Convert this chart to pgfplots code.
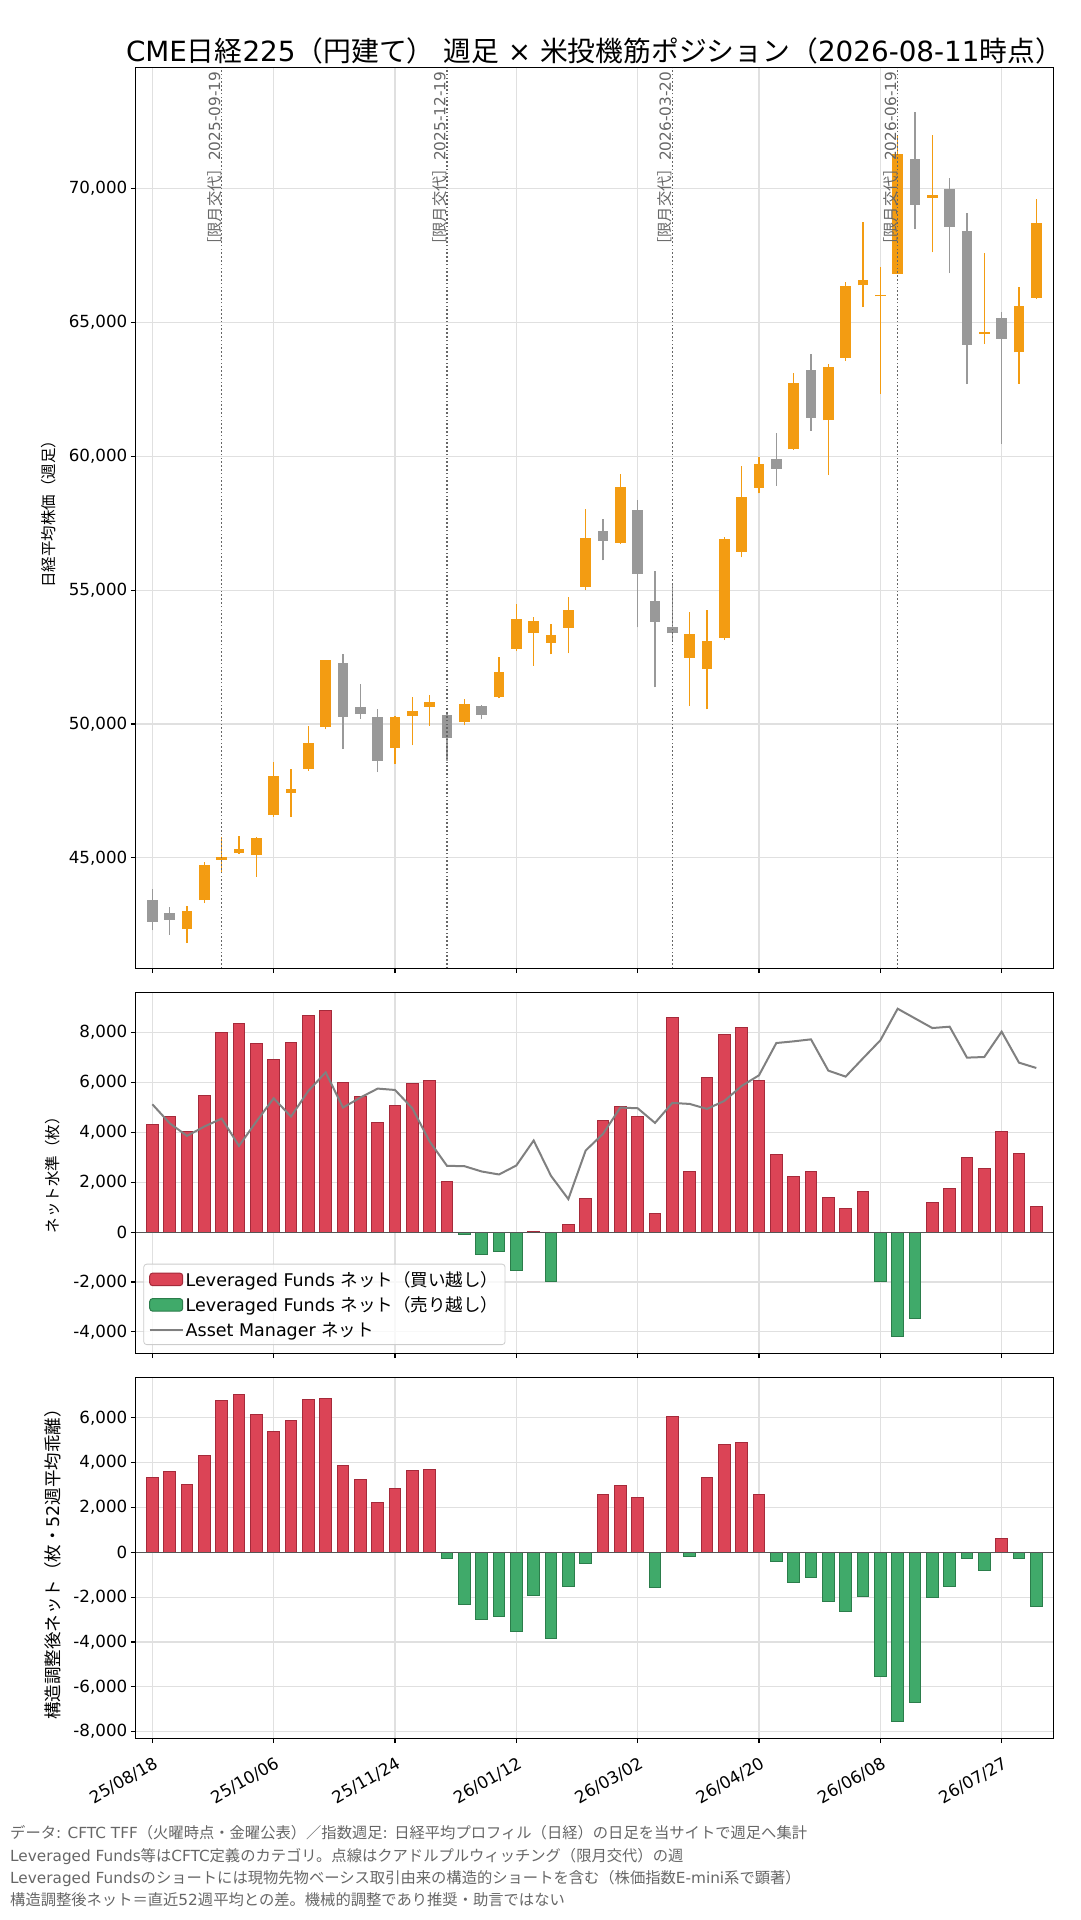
\documentclass[border=0pt]{standalone}
\usepackage{fontspec}
\setmainfont{DejaVu Sans}
\newfontfamily\jp{Noto Sans CJK JP}
\usepackage{pgfplots}
\usepackage{pgfplotstable}
\pgfplotsset{compat=1.18}
\definecolor{cup}{HTML}{F39C12}
\definecolor{cdn}{HTML}{999999}
\definecolor{rfill}{HTML}{DB4456}
\definecolor{redge}{HTML}{A52A3A}
\definecolor{gfill}{HTML}{40AA6A}
\definecolor{gedge}{HTML}{2B7D4B}
\definecolor{amline}{HTML}{808080}
\definecolor{zl}{HTML}{555555}
\definecolor{note}{HTML}{666666}
\definecolor{gridc}{HTML}{E0E0E0}

% candles: w = week index (0 = 25/08/18), o h l c
\pgfplotstableread{
w o h l c
2 42360 43210 41820 43020
3 43430 44860 43310 44740
4 44940 45800 44490 45040
5 45200 45820 45150 45340
6 45110 45800 44300 45750
7 46600 48570 46540 48060
8 47440 48310 46520 47580
9 48320 49910 48250 49290
10 49900 52400 49800 52390
14 49120 50290 48500 50260
15 50310 51000 49200 50490
16 50650 51100 49930 50820
18 50080 50920 49950 50750
20 51020 52490 50960 51940
21 52800 54470 52720 53920
22 53410 54000 52180 53840
23 53040 53720 52600 53320
24 53600 54750 52640 54250
25 55120 58010 55000 56940
27 56770 59320 56720 58840
31 52480 54170 50670 53360
32 52070 54240 50550 53100
33 53220 56990 53130 56900
34 56430 59650 56220 58470
35 58820 59980 58610 59700
37 60250 63100 60240 62740
39 61330 63430 59290 63330
40 63680 66490 63560 66360
41 66370 68750 65560 66580
42 65960 67050 62310 66020
43 66810 71950 66800 71280
45 69650 71980 67610 69750
48 64560 67580 64180 64620
50 63870 66310 62700 65610
51 65920 69590 65860 68710
}\upT
\pgfplotstableread{
w o h l c
0 43430 43830 42310 42620
1 42950 43160 42130 42700
11 52280 52610 49060 50270
12 50630 51480 50200 50370
13 50260 50550 48200 48630
17 50340 50400 48620 49490
19 50670 50710 50170 50340
26 57200 57670 56110 56840
28 57990 58360 53610 55610
29 54590 55730 51370 53820
30 53620 55210 53110 53380
36 59890 60880 58890 59520
38 63220 63810 60950 61440
44 71090 72840 68470 69390
46 69970 70370 66830 68570
47 68410 69070 62690 64150
49 65160 65370 60460 64380
}\dnT

\pgfplotsset{
  base/.style={
    scale only axis, width=917.6pt, xmin=-0.96, xmax=51.98,
    axis line style={line width=1.1pt, black},
    tick style={line width=1.1pt, black}, major tick length=4.9pt, tick align=outside,
    xtick pos=bottom, ytick pos=left, xtick={0,7,...,49},
    scaled y ticks=false, scaled x ticks=false,
    grid=major, grid style={line width=1.1pt, gridc},
    tick label style={font=\fontsize{16.7}{20}\selectfont},
  },
  rbar/.style={ybar, bar width=0.67, bar shift=0pt, fill=rfill, draw=redge, line width=1pt},
  gbar/.style={ybar, bar width=0.67, bar shift=0pt, fill=gfill, draw=gedge, line width=1pt},
  candle/.style 2 args={draw=none, mark=none, forget plot, error bars/.cd, y dir=plus, y explicit, error mark=none,
    error bar style={line width=#1, draw=#2}},
}

\begin{document}
\begin{tikzpicture}
\useasboundingbox (0pt,0pt) rectangle (1080pt,-1920pt);

% title
\node[anchor=base, inner sep=0pt, font=\fontsize{27.8}{32}\selectfont] at (594.5pt,-61pt)
  {CME{\jp 日経}225{\jp （円建て）} {\jp 週足} × {\jp 米投機筋ポジション（}2026-08-11{\jp 時点）}};

% y labels
\node[rotate=90, anchor=center, inner sep=0pt, font=\fontsize{15.5}{18}\selectfont] at (49pt,-510pt) {{\jp 日経平均株価（週足）}};
\node[rotate=90, anchor=center, inner sep=0pt, font=\fontsize{15.5}{18}\selectfont] at (53pt,-1171pt) {{\jp ネット水準（枚）}};
\node[rotate=90, anchor=center, inner sep=0pt, font=\fontsize{17.5}{20}\selectfont] at (52.5pt,-1560pt) {{\jp 構造調整後ネット（枚・}52{\jp 週平均乖離）}};

% ---------- top: candles ----------
\begin{axis}[base, at={(135.7pt,-968.3pt)}, anchor=south west, height=900.6pt,
  ymin=40880, ymax=74500,
  ytick={45000,50000,55000,60000,65000,70000},
  yticklabels={{45,000},{50,000},{55,000},{60,000},{65,000},{70,000}},
  xticklabels={},
]
% wicks
\addplot[candle={1.5pt}{cup}]
  table[x=w, y=l, y error plus expr=\thisrow{h}-\thisrow{l}] {\upT};
\addplot[candle={1.5pt}{cdn}]
  table[x=w, y=l, y error plus expr=\thisrow{h}-\thisrow{l}] {\dnT};
% bodies
\addplot[candle={10.7pt}{cup}]
  table[x=w, y=o, y error plus expr=\thisrow{c}-\thisrow{o}] {\upT};
\addplot[candle={10.7pt}{cdn}]
  table[x=w, y=c, y error plus expr=\thisrow{o}-\thisrow{c}] {\dnT};
% roll weeks
\draw[note, line width=1.6pt, dash pattern=on 1.6pt off 2.2pt] (axis cs:4,40880) -- (axis cs:4,74500);
\draw[note, line width=1.6pt, dash pattern=on 1.6pt off 2.2pt] (axis cs:17,40880) -- (axis cs:17,74500);
\draw[note, line width=1.6pt, dash pattern=on 1.6pt off 2.2pt] (axis cs:30,40880) -- (axis cs:30,74500);
\draw[note, line width=1.6pt, dash pattern=on 1.6pt off 2.2pt] (axis cs:43,40880) -- (axis cs:43,74500);
\node[rotate=90, anchor=south east, inner sep=0pt, text=note, font=\fontsize{15.3}{18}\selectfont] at (axis cs:4,74350) {{\jp ［限月交代］}2025-09-19};
\node[rotate=90, anchor=south east, inner sep=0pt, text=note, font=\fontsize{15.3}{18}\selectfont] at (axis cs:17,74350) {{\jp ［限月交代］}2025-12-19};
\node[rotate=90, anchor=south east, inner sep=0pt, text=note, font=\fontsize{15.3}{18}\selectfont] at (axis cs:30,74350) {{\jp ［限月交代］}2026-03-20};
\node[rotate=90, anchor=south east, inner sep=0pt, text=note, font=\fontsize{15.3}{18}\selectfont] at (axis cs:43,74350) {{\jp ［限月交代］}2026-06-19};
\end{axis}

% ---------- middle: net level ----------
\begin{axis}[base, at={(135.7pt,-1353.3pt)}, anchor=south west, height=361pt,
  ymin=-4857, ymax=9604,
  ytick={-4000,-2000,0,2000,4000,6000,8000},
  yticklabels={{-4,000},{-2,000},{0},{2,000},{4,000},{6,000},{8,000}},
  xticklabels={},
  legend cell align=left,
  legend style={at={(axis description cs:0.0083,0.023)}, anchor=south west,
    draw=gray!40, line width=0.8pt, rounded corners=3pt, fill=white, fill opacity=0.8,
    draw opacity=1, text opacity=1, font=\fontsize{17.5}{21}\selectfont,
    inner xsep=5pt, inner ysep=5pt, row sep=5pt},
]
\addplot[rbar, legend image code/.code={\draw[fill=rfill, draw=redge, line width=1pt, fill opacity=1] (0pt,-6.3pt) rectangle (33pt,6.3pt);}]
 coordinates {(0,4320) (1,4640) (2,4040) (3,5480) (4,8000) (5,8360) (6,7560) (7,6920) (8,7600) (9,8680) (10,8880) (11,6000) (12,5440) (13,4400) (14,5080) (15,5960) (16,6080) (17,2030) (22,40) (24,320) (25,1360) (26,4480) (27,5040) (28,4640) (29,760) (30,8600) (31,2440) (32,6200) (33,7920) (34,8200) (35,6080) (36,3120) (37,2240) (38,2440) (39,1400) (40,960) (41,1640) (45,1200) (46,1730) (47,3000) (48,2560) (49,4040) (50,3160) (51,1040)};
\addlegendentry{Leveraged Funds {\jp ネット（買い越し）}}
\addplot[gbar, legend image code/.code={\draw[fill=gfill, draw=gedge, line width=1pt, fill opacity=1] (0pt,-6.3pt) rectangle (33pt,6.3pt);}]
 coordinates {(18,-80) (19,-880) (20,-760) (21,-1520) (23,-1990) (42,-2000) (43,-4200) (44,-3480)};
\addlegendentry{Leveraged Funds {\jp ネット（売り越し）}}
\addplot[amline, line width=2pt, mark=none, legend image code/.code={\draw[amline, line width=2pt] (0pt,0pt) -- (33pt,0pt);}]
 coordinates {(0,5120) (1,4360) (2,3853) (3,4227) (4,4547) (5,3453) (6,4427) (7,5360) (8,4627) (9,5653) (10,6400) (11,4987) (12,5387) (13,5747) (14,5693) (15,4960) (16,3627) (17,2653) (18,2640) (19,2427) (20,2307) (21,2667) (22,3667) (23,2253) (24,1320) (25,3267) (26,3933) (27,4987) (28,4960) (29,4373) (30,5173) (31,5133) (32,4933) (33,5253) (34,5853) (35,6280) (36,7573) (37,7640) (38,7720) (39,6467) (40,6227) (41,6960) (42,7680) (43,8947) (44,8560) (45,8173) (46,8227) (47,6987) (48,7013) (49,8027) (50,6787) (51,6573)};
\addlegendentry{Asset Manager {\jp ネット}}
\addplot[zl, line width=1.1pt, mark=none, forget plot] coordinates {(-0.96,0) (51.98,0)};
\end{axis}

% ---------- bottom: adjusted net ----------
\begin{axis}[base, at={(135.7pt,-1738.3pt)}, anchor=south west, height=361pt,
  ymin=-8300, ymax=7810,
  ytick={-8000,-6000,-4000,-2000,0,2000,4000,6000},
  yticklabels={{-8,000},{-6,000},{-4,000},{-2,000},{0},{2,000},{4,000},{6,000}},
  xticklabels={25/08/18,25/10/06,25/11/24,26/01/12,26/03/02,26/04/20,26/06/08,26/07/27},
  x tick label style={rotate=30, anchor=north east, inner sep=0pt, xshift=-6pt, yshift=-11pt},
]
\addplot[rbar] coordinates {(0,3344) (1,3611) (2,3031) (3,4324) (4,6776) (5,7044) (6,6152) (7,5394) (8,5885) (9,6821) (10,6865) (11,3878) (12,3254) (13,2229) (14,2853) (15,3656) (16,3700) (26,2586) (27,2987) (28,2452) (30,6063) (32,3344) (33,4815) (34,4904) (35,2586) (49,624)};
\addplot[gbar] coordinates {(17,-267) (18,-2318) (19,-2987) (20,-2853) (21,-3522) (22,-1917) (23,-3834) (24,-1516) (25,-490) (29,-1560) (31,-178) (36,-401) (37,-1337) (38,-1115) (39,-2184) (40,-2630) (41,-1962) (42,-5528) (43,-7534) (44,-6687) (45,-2006) (46,-1516) (47,-267) (48,-802) (50,-297) (51,-2407)};
\addplot[zl, line width=1.1pt, mark=none] coordinates {(-0.96,0) (51.98,0)};
\end{axis}

% footnotes
\begin{scope}[every node/.style={anchor=base west, inner sep=0pt, text=note, font=\fontsize{15.3}{18}\selectfont}]
\node at (10pt,-1838pt) {{\jp データ}: CFTC TFF{\jp （火曜時点・金曜公表）／指数週足}: {\jp 日経平均プロフィル（日経）の日足を当サイトで週足へ集計}};
\node at (10pt,-1861pt) {Leveraged Funds{\jp 等は}CFTC{\jp 定義のカテゴリ。点線はクアドルプルウィッチング（限月交代）の週}};
\node at (10pt,-1883pt) {Leveraged Funds{\jp のショートには現物先物ベーシス取引由来の構造的ショートを含む（株価指数}E-mini{\jp 系で顕著）}};
\node at (10pt,-1905pt) {{\jp 構造調整後ネット＝直近}52{\jp 週平均との差。機械的調整であり推奨・助言ではない}};
\end{scope}
\end{tikzpicture}
\end{document}
